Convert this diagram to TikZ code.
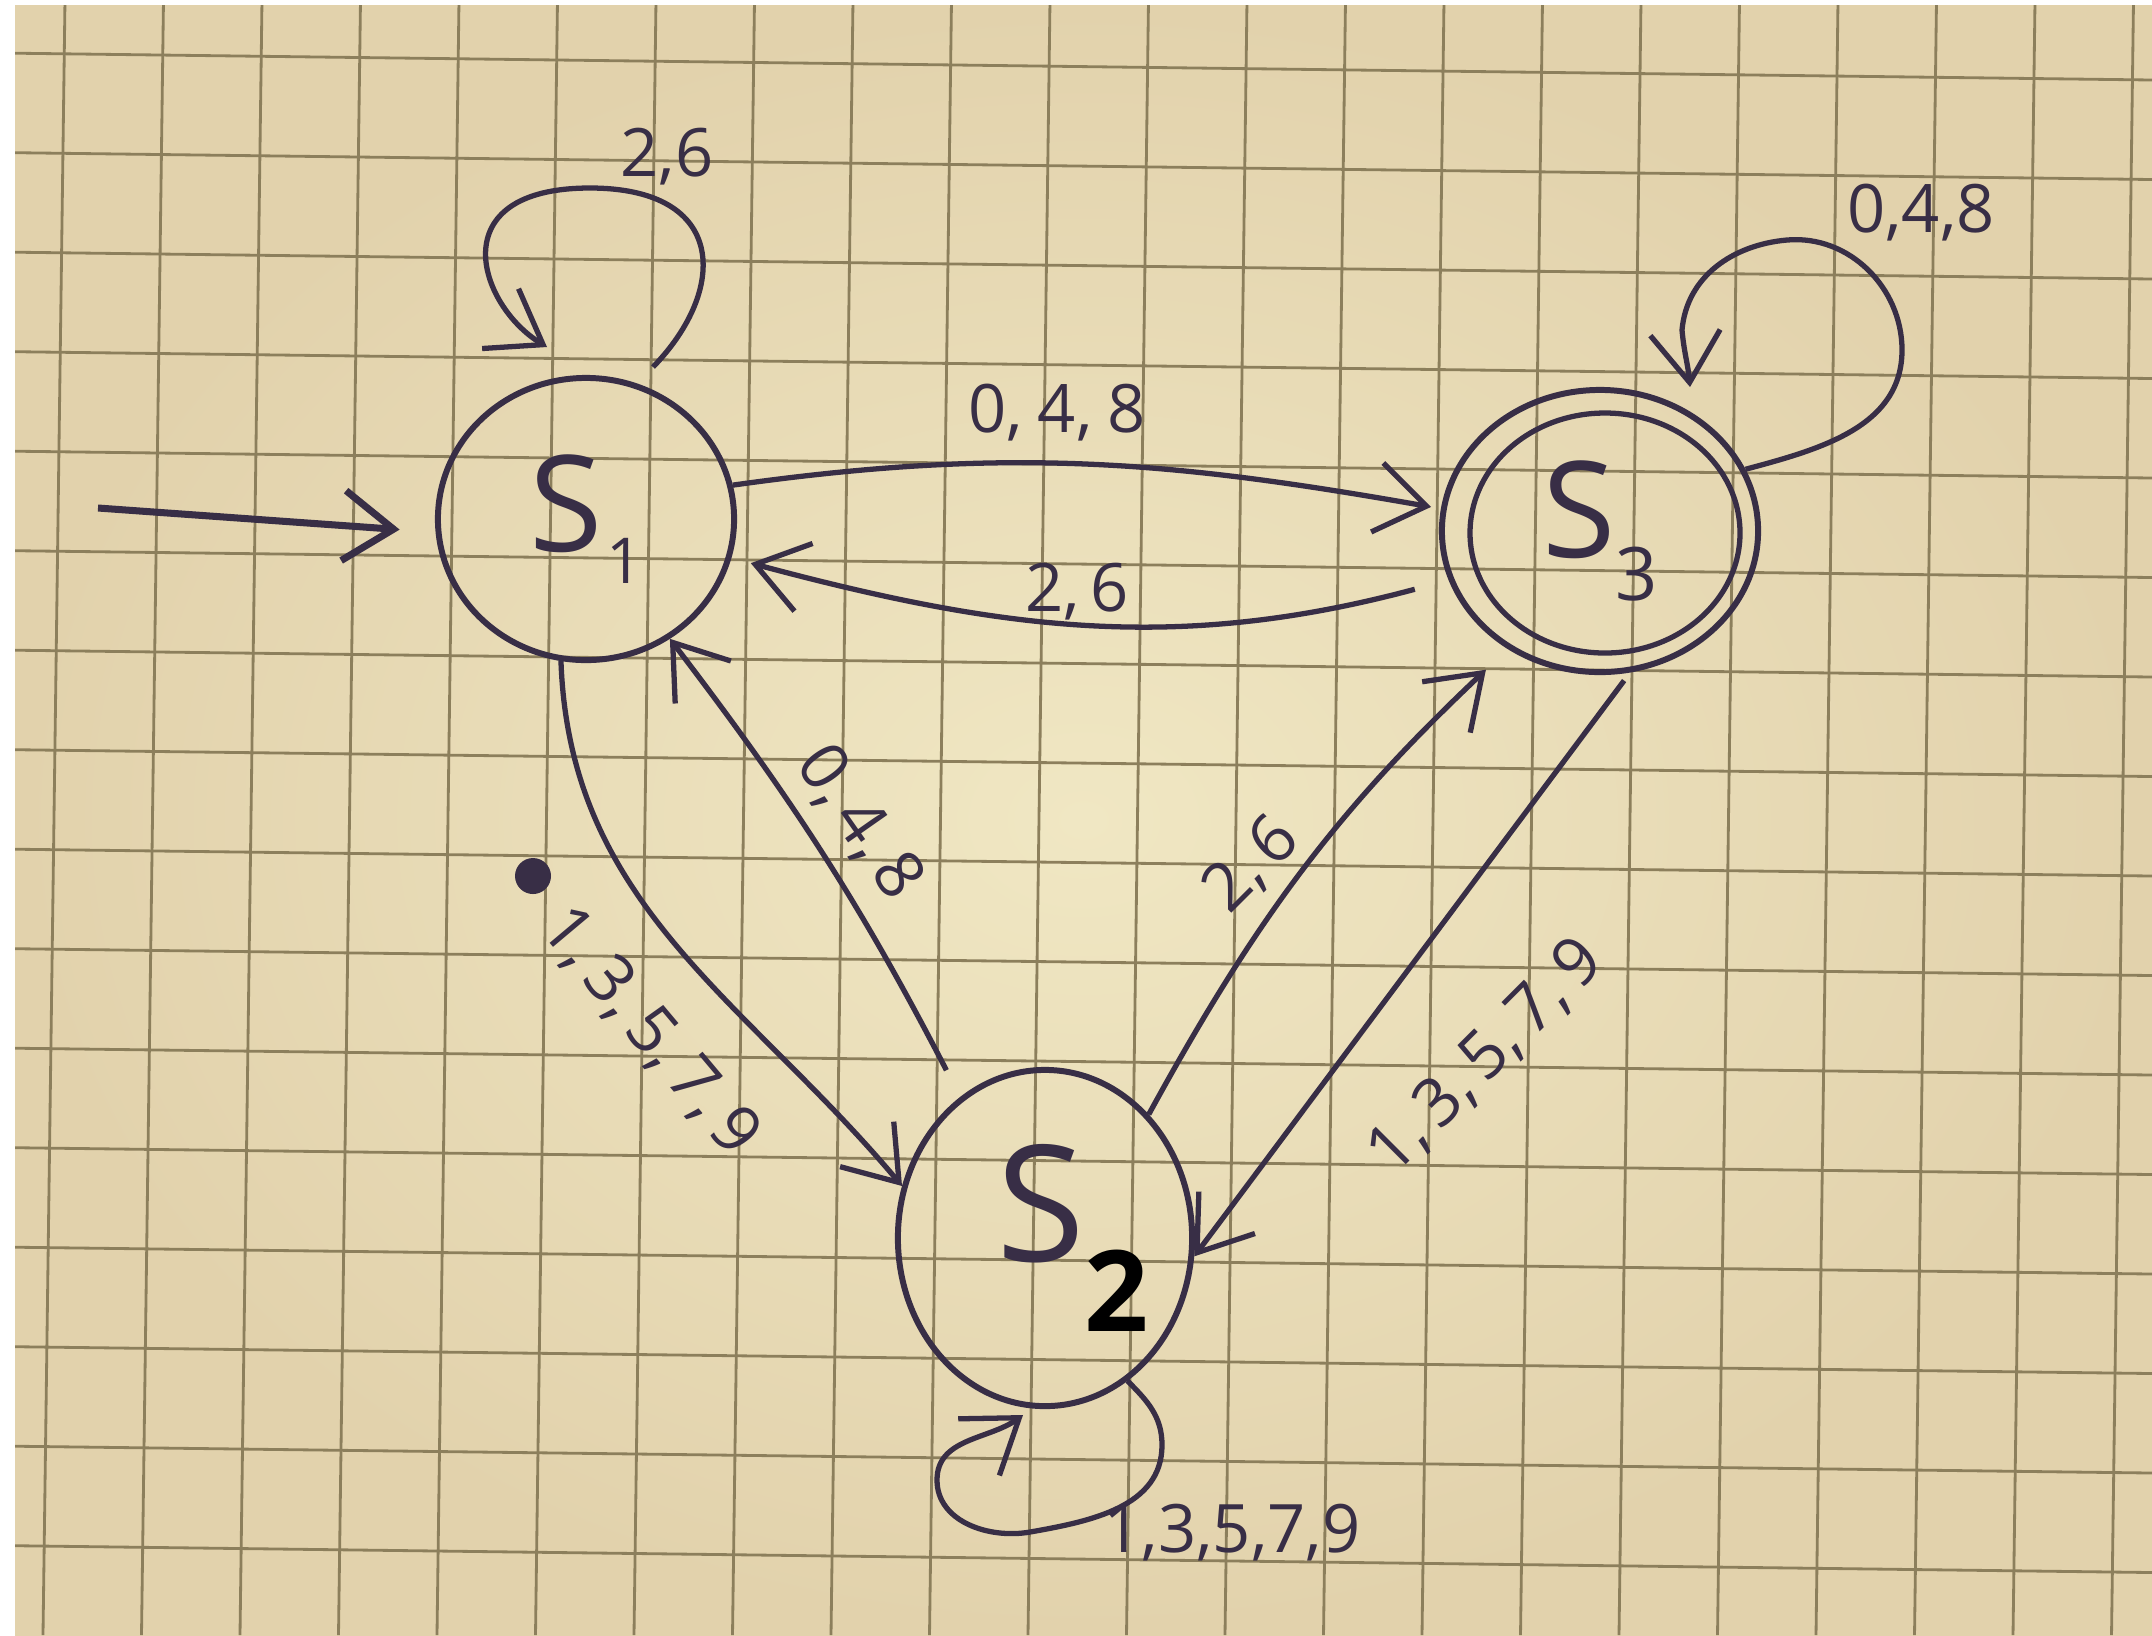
\documentclass[tikz,border=0pt]{standalone}
\usepackage{fontspec}
\setmainfont{Open Sans}
\usetikzlibrary{arrows.meta,shapes.geometric}
\definecolor{paperin}{RGB}{240,231,195}
\definecolor{paperout}{RGB}{226,210,172}
\definecolor{gridc}{RGB}{140,127,92}
\definecolor{ink}{RGB}{56,46,70}
\begin{document}
\begin{tikzpicture}[x=0.01cm,y=0.01cm,
  state/.style={draw=ink, line width=1.7pt, ellipse, inner sep=0pt, text=ink},
  edge/.style={draw=ink, line width=1.5pt, -{Straight Barb[length=5mm,width=7mm]}},
  lab/.style={text=ink, font=\fontsize{19}{19}\selectfont, inner sep=0pt},
  gridl/.style={draw=gridc, line width=0.8pt}
]
\useasboundingbox (0,0) rectangle (2152,-1635);
\fill[white] (0,0) rectangle (2152,-1635);
\shade[inner color=paperin, outer color=paperout] (15,-5) rectangle (2152,-1635);
\begin{scope}
  \clip (15,-5) rectangle (2152,-1635);
  \foreach \k in {0,...,21} \draw[gridl] ({65+98.5*\k},0) -- ({43+98.5*\k},-1635);
  \foreach \k in {0,...,16} \draw[gridl] (0,{-53-99.5*\k}) -- (2152,{-80-99.5*\k});
\end{scope}

% states
\node[state, minimum width=29.6mm, minimum height=28.2mm] (s1) at (586,-519)
  {\fontsize{38}{38}\selectfont S\kern1pt\raisebox{-9pt}{\fontsize{18}{18}\selectfont 1}};
\node[state, minimum width=31.6mm, minimum height=28.2mm] (s3) at (1600,-531)
  {\fontsize{38}{38}\selectfont S\raisebox{-12pt}{\fontsize{21}{21}\selectfont 3}};
\draw[ink, line width=1.5pt] (s3.center) ++(5,-2) ellipse [x radius=135, y radius=120];
\node[state, minimum width=29mm, minimum height=33.6mm] (s2) at (1045,-1238)
  {\hspace*{5.5mm}\fontsize{46}{46}\selectfont S\raisebox{-20pt}{\fontsize{32}{32}\selectfont\bfseries\color{black}2}};

% free ends
\coordinate (init) at (98,-508);
\coordinate (l1s) at (653,-367);
\coordinate (l1) at (547,-347);
\coordinate (l3) at (1690,-387);
\coordinate (l2) at (1023,-1415);

% start arrow
\draw[edge, line width=2pt, shorten >=3.6mm] (init) -- (s1.185);

% self loops
\draw[edge] (l1s) .. controls (728,-290) and (728,-188) .. (590,-188)
  .. controls (440,-188) and (478,-305) .. (l1);
\draw[edge] (s3.23) to[out=15,in=-90] (1902,-350) to[out=90,in=5] (1787,-240)
  to[out=185,in=85] (1682,-330) to[out=-85,in=95] (l3);
\draw[edge] (s2.-60) to[out=-45,in=90] (1162,-1445) to[out=-90,in=10] (1030,-1532)
  to[out=190,in=-90] (937,-1480) to[out=90,in=-144] (l2);

% transitions
\draw[edge, shorten >=1mm] (s1.13) to[out=8,in=170] (s3.172);
\draw[edge, shorten <=3.5mm, shorten >=2mm] (s3.-162) to[out=195,in=-15] (s1.-15);
\draw[edge] (s1.-100) to[out=-88,in=130] (s2.160);
\draw[edge, shorten <=3mm] (s2.121) to[bend right=5] (s1.-55);
\draw[edge, shorten >=3mm] (s2.50) to[bend left=9] (s3.-128);
\draw[edge, shorten <=1mm] (s3.-78) -- (s2.-7);

% labels
\node[lab] (t11) at (667,-157) {2,6};
\node[lab] (t33) at (1921,-213) {0,4,8};
\node[lab] (t22) at (1232,-1533) {1,3,5,7,9};
\node[lab] (t13) at (1057,-413) {0,\hspace{1.5mm}4,\hspace{1.5mm}8};
\node[lab] (t31) at (1077,-592) {2,\,6};
\node[lab, rotate=-55] (t21) at (859,-823) {0,\,4,\,8};
\node[lab, rotate=-50] (t12) at (650,-1032) {1,\,3,\,5,\,7,\,9};
\node[lab, rotate=45] (t23) at (1252,-865) {2,\,6};
\node[lab, rotate=45] (t32) at (1486,-1057) {1,\,3,\,5,\,7,\,9};

% ink blot
\fill[ink] (533,-876) circle (18);
\end{tikzpicture}
\end{document}
